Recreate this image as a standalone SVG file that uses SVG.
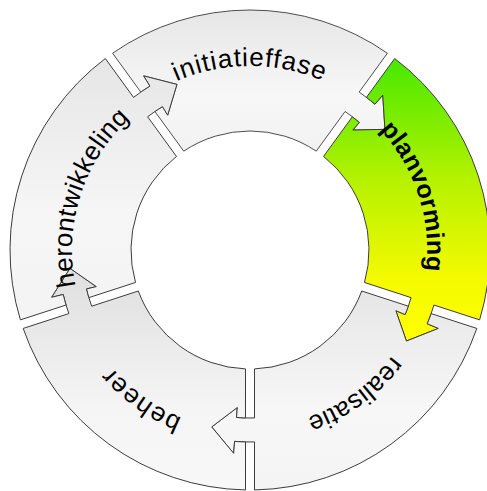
<svg xmlns="http://www.w3.org/2000/svg" width="487" height="491" viewBox="0 0 487 491">
  <style>
    .seg { stroke: #3a3a3a; stroke-width: 0.9; stroke-linejoin: miter; }
    .lbl { font-family: "Liberation Sans", Arial, sans-serif; font-size: 26px; fill: #000; }
    .bold { font-weight: bold; font-size: 25px; }
  </style>
  <defs>
    <path id="segShape" d="M 112.60 53.23 A 240 240 0 0 1 387.40 53.23 L 359.18 92.07 A 192 192 0 0 1 374.95 104.22 L 382.76 95.11 L 384.93 129.36 L 352.82 130.04 L 359.33 122.44 A 168 168 0 0 0 345.07 111.49 L 316.26 151.15 A 119 119 0 0 0 183.74 151.15 L 154.93 111.49 A 168 168 0 0 1 162.47 106.60 L 167.68 115.14 L 176.96 84.39 L 143.71 75.88 L 149.97 86.12 A 192 192 0 0 0 140.82 92.07 Z"/>
    <path id="arc184" d="M 90.65 158 A 184 184 0 0 1 409.35 158"/>
    <path id="arc177" d="M 96.71 161.5 A 177 177 0 0 1 403.29 161.5"/>
    <path id="arc181" d="M 93.25 159.5 A 181 181 0 0 1 406.75 159.5"/>
    <path id="arc178" d="M 95.85 161 A 178 178 0 0 1 404.15 161"/>
    <linearGradient id="gInit" gradientUnits="userSpaceOnUse" x1="0" y1="10" x2="0" y2="150">
      <stop offset="0" stop-color="#E6E6E6"/><stop offset="0.6" stop-color="#F7F7F7"/><stop offset="1" stop-color="#F2F2F2"/>
    </linearGradient>
    <linearGradient id="gPlan" gradientUnits="userSpaceOnUse" x1="0" y1="60" x2="0" y2="335" gradientTransform="rotate(-72 250 250)">
      <stop offset="0" stop-color="#48E800"/><stop offset="0.45" stop-color="#B8F200"/><stop offset="0.8" stop-color="#F5FA00"/><stop offset="1" stop-color="#FFFF00"/>
    </linearGradient>
    <linearGradient id="gReal" gradientUnits="userSpaceOnUse" x1="0" y1="290" x2="0" y2="490" gradientTransform="rotate(-144 250 250)">
      <stop offset="0" stop-color="#E6E6E6"/><stop offset="0.6" stop-color="#F7F7F7"/><stop offset="1" stop-color="#F4F4F4"/>
    </linearGradient>
    <linearGradient id="gBeh" gradientUnits="userSpaceOnUse" x1="0" y1="290" x2="0" y2="490" gradientTransform="rotate(-216 250 250)">
      <stop offset="0" stop-color="#E2E2E2"/><stop offset="0.6" stop-color="#F5F5F5"/><stop offset="1" stop-color="#F8F8F8"/>
    </linearGradient>
    <linearGradient id="gHer" gradientUnits="userSpaceOnUse" x1="0" y1="60" x2="0" y2="320" gradientTransform="rotate(-288 250 250)">
      <stop offset="0" stop-color="#E6E6E6"/><stop offset="0.6" stop-color="#F6F6F6"/><stop offset="1" stop-color="#F3F3F3"/>
    </linearGradient>
  </defs>
  <rect width="487" height="491" fill="#FFFFFF"/>

  <g id="initiatieffase">
    <use href="#segShape" class="seg" fill="url(#gInit)"/>
    <text class="lbl" letter-spacing="1"><textPath href="#arc184" startOffset="50%" text-anchor="middle" dx="4">initiatieffase</textPath></text>
  </g>

  <g id="planvorming" transform="rotate(72 250 250)">
    <use href="#segShape" class="seg" fill="url(#gPlan)"/>
    <text class="lbl bold" letter-spacing="0.3"><textPath href="#arc177" startOffset="50%" text-anchor="middle">planvorming</textPath></text>
  </g>

  <g id="realisatie" transform="rotate(144 250 250)">
    <use href="#segShape" class="seg" fill="url(#gReal)"/>
    <text class="lbl" letter-spacing="0.3"><textPath href="#arc177" startOffset="50%" text-anchor="middle">realisatie</textPath></text>
  </g>

  <g id="beheer" transform="rotate(216 250 250)">
    <use href="#segShape" class="seg" fill="url(#gBeh)"/>
    <text class="lbl" letter-spacing="1.2"><textPath href="#arc181" startOffset="50%" text-anchor="middle">beheer</textPath></text>
  </g>

  <g id="herontwikkeling" transform="rotate(288 250 250)">
    <use href="#segShape" class="seg" fill="url(#gHer)"/>
    <text class="lbl" letter-spacing="0.3"><textPath href="#arc178" startOffset="50%" text-anchor="middle">herontwikkeling</textPath></text>
  </g>
</svg>
